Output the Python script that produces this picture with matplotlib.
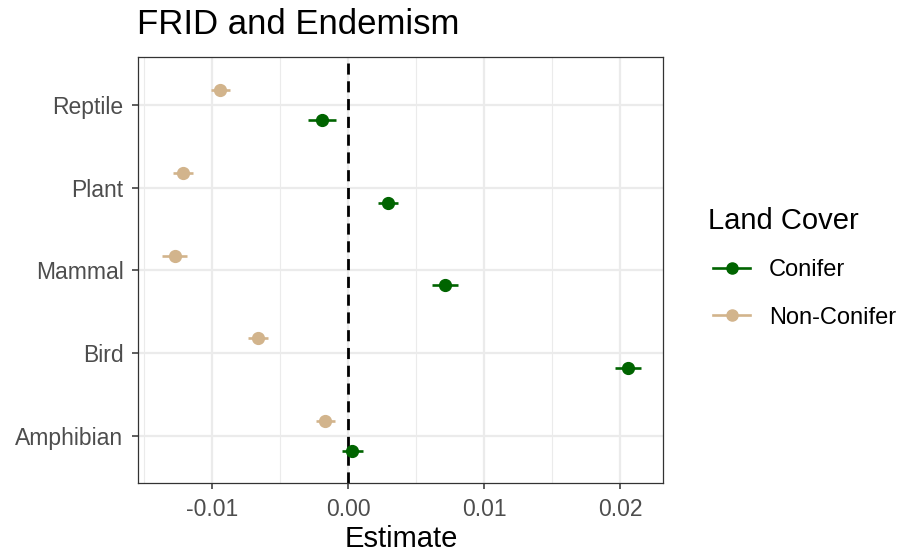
import matplotlib
matplotlib.use("Agg")
import matplotlib.pyplot as plt
from matplotlib.lines import Line2D
from matplotlib.ticker import MultipleLocator
import numpy as np

plt.rcParams['font.family'] = ['Liberation Sans', 'DejaVu Sans']

categories = ["Amphibian", "Bird", "Mammal", "Plant", "Reptile"]
conifer_est = [0.00032, 0.02057, 0.00713, 0.00292, -0.00189]
conifer_err = [0.00075, 0.00097, 0.00096, 0.00074, 0.00103]
nonconifer_est = [-0.00169, -0.00662, -0.01274, -0.01213, -0.00939]
nonconifer_err = [0.00070, 0.00074, 0.00093, 0.00071, 0.00071]
series_names = ["Conifer", "Non-Conifer"]
colors = ["#006400", "#D2B48C"]
xtick_vals = [-0.01, 0.0, 0.01, 0.02]
xtick_labels = ["-0.01", "0.00", "0.01", "0.02"]

W, H = 899, 556
fig = plt.figure(figsize=(W / 100, H / 100), dpi=100)
ax = fig.add_axes([138 / W, (H - 483) / H, 525 / W, 426 / H])

ypos = np.arange(1, len(categories) + 1)
dodge = 0.18

ax.axvline(0, color='black', linestyle=(0, (4, 2.4)), linewidth=2.0, zorder=2)

for est, err, col, off in [(conifer_est, conifer_err, colors[0], -dodge),
                           (nonconifer_est, nonconifer_err, colors[1], dodge)]:
    ax.errorbar(est, ypos + off, xerr=err, fmt='o', color=col, ecolor=col,
                markersize=8.5, elinewidth=1.9, capsize=0, zorder=3)

ax.set_xlim(-0.01545, 0.02316)
ax.set_ylim(0.427, 5.585)
ax.set_yticks(ypos)
ax.set_yticklabels(categories)
ax.xaxis.set_minor_locator(MultipleLocator(0.005))
ax.set_xticks(xtick_vals)
ax.set_xticklabels(xtick_labels)

ax.grid(which='major', color='#EBEBEB', linewidth=1.6, zorder=0)
ax.grid(which='minor', axis='x', color='#EBEBEB', linewidth=0.8, zorder=0)
ax.set_axisbelow(True)
for s in ax.spines.values():
    s.set_color('#333333')
    s.set_linewidth(0.9)
ax.tick_params(axis='both', which='major', colors='#333333', length=4, width=1.1,
               labelsize=16.5, labelcolor='#4D4D4D')
ax.tick_params(axis='x', which='major', pad=7)
ax.tick_params(axis='y', which='major', pad=6.5)
ax.tick_params(axis='x', which='minor', length=0)

fig.text(401 / W, 1 - 547 / H, "Estimate", fontsize=21, color='black',
         ha='center', va='baseline')
fig.text(137 / W, 1 - 34 / H, "FRID and Endemism", fontsize=25, color='black',
         ha='left', va='baseline')

# Legend
fig.text(708 / W, 1 - 229 / H, "Land Cover", fontsize=21, color='black',
         ha='left', va='baseline')
for name, col, yc in zip(series_names, colors, [268, 315]):
    fy = 1 - yc / H
    fig.add_artist(Line2D([713 / W, 750 / W], [fy, fy], color=col, linewidth=1.9,
                          transform=fig.transFigure))
    fig.add_artist(Line2D([731.5 / W], [fy], color=col, marker='o', markersize=8,
                          linestyle='none', transform=fig.transFigure))
    fig.text(769 / W, fy, name, fontsize=17, color='black', ha='left',
             va='center_baseline')

fig.savefig("out.png", dpi=100)
